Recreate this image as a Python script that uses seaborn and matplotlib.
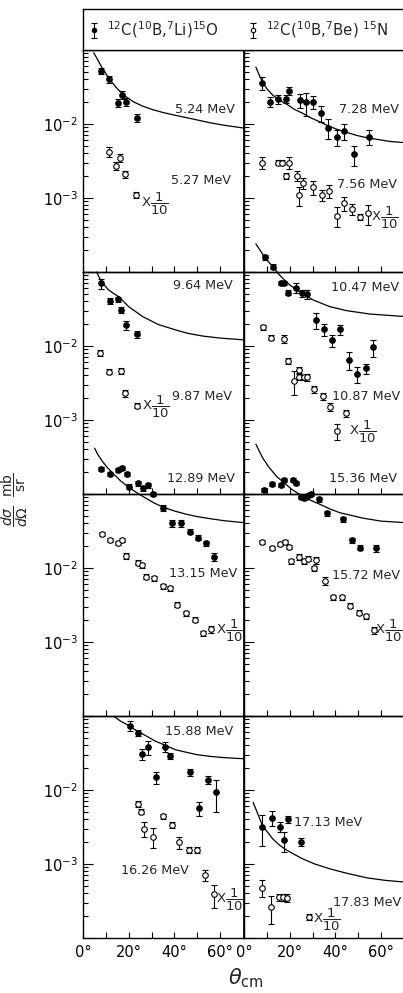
import numpy as np
import matplotlib
matplotlib.use("Agg")
import matplotlib.pyplot as plt
import seaborn as sns
from matplotlib.ticker import LogLocator, FuncFormatter, NullFormatter

sns.set_theme(style="ticks")
plt.rcParams["font.family"] = ["DejaVu Sans"]
plt.rcParams["mathtext.fontset"] = "dejavusans"

# angle (deg cm), cross section (mb/sr), relative error
# open symbols are already multiplied by 1/10 as in the figure

# 5.24 / 5.27 MeV
a524 = [8.1, 11.6, 15.2, 17.1, 18.8, 23.7]
s524 = [0.052, 0.040, 0.0195, 0.025, 0.020, 0.012]
e524 = [0.10, 0.10, 0.12, 0.12, 0.12, 0.12]
a527 = [11.3, 14.6, 16.3, 18.3, 23.1]
s527 = [0.0042, 0.0027, 0.0035, 0.0021, 0.0011]
e527 = [0.15, 0.12, 0.12, 0.10, 0.10]
ca524 = [4.7, 6, 8, 10, 12, 15, 18.7, 22, 26, 30, 35, 40, 48, 55.6, 62, 70.5]
cs524 = [0.092, 0.078, 0.060, 0.048, 0.039, 0.030, 0.0235, 0.020, 0.0175, 0.0158,
         0.0143, 0.0132, 0.0117, 0.0104, 0.0096, 0.0088]

# 7.28 / 7.56 MeV
a728 = [8.1, 11.4, 15.0, 18.4, 19.6, 24.6, 27.0, 30.2, 33.8, 36.9, 40.6, 43.8, 48.2, 54.6]
s728 = [0.0355, 0.020, 0.0216, 0.022, 0.028, 0.021, 0.0196, 0.020, 0.0142, 0.0089,
        0.0067, 0.0080, 0.0039, 0.0067]
e728 = [0.20, 0.15, 0.15, 0.12, 0.12, 0.22, 0.35, 0.20, 0.25, 0.30, 0.25, 0.25, 0.30, 0.22]
a756 = [8.1, 14.7, 16.5, 18.4, 19.6, 23.3, 24.3, 25.8, 30.2, 34.0, 37.1, 40.6, 43.8,
        47.4, 50.9, 54.1]
s756 = [0.0030, 0.0030, 0.0030, 0.0020, 0.0030, 0.0020, 0.0011, 0.0016, 0.0014, 0.0011,
        0.00126, 0.00058, 0.00085, 0.00071, 0.00056, 0.00062]
e756 = [0.18, 0.08, 0.08, 0.10, 0.18, 0.16, 0.30, 0.18, 0.22, 0.18, 0.20, 0.30, 0.22,
        0.18, 0.10, 0.30]
ca728 = [5.2, 6.5, 8.1, 10, 12.5, 15.5, 19.2, 22, 25.8, 29, 33.2, 36, 40.6, 45, 49.4,
         54, 59.7, 64, 70.5]
cs728 = [0.059, 0.047, 0.037, 0.030, 0.0247, 0.021, 0.0181, 0.0158, 0.0139, 0.0122,
         0.0107, 0.0097, 0.0085, 0.0077, 0.0070, 0.0065, 0.0061, 0.0058, 0.0056]

# 9.64 / 9.87 MeV
a964 = [8.1, 11.8, 15.5, 16.8, 18.7, 23.7]
s964 = [0.070, 0.041, 0.043, 0.031, 0.019, 0.0144]
e964 = [0.15, 0.10, 0.08, 0.10, 0.13, 0.10]
a987 = [7.3, 11.6, 16.5, 18.3, 23.6]
s987 = [0.0081, 0.0045, 0.0046, 0.0023, 0.00156]
e987 = [0.10, 0.08, 0.08, 0.10, 0.08]
ca964 = [5.9, 8.1, 11, 13.5, 15.8, 20, 26.1, 33, 40.8, 46, 52.6, 60, 70.5]
cs964 = [0.100, 0.074, 0.058, 0.051, 0.046, 0.034, 0.025, 0.0195, 0.0164, 0.0148,
         0.0136, 0.0128, 0.0121]

# 10.47 / 10.87 MeV
a1047 = [9.0, 12.5, 16.2, 17.7, 19.3, 22.8, 25.2, 27.6, 31.4, 35.0, 38.6, 42.0, 45.9,
         49.4, 53.3, 56.5]
s1047 = [0.158, 0.118, 0.072, 0.072, 0.0525, 0.061, 0.0515, 0.050, 0.0224, 0.0168,
         0.0120, 0.0168, 0.0065, 0.0042, 0.0050, 0.0096]
e1047 = [0.08, 0.08, 0.06, 0.06, 0.08, 0.15, 0.12, 0.15, 0.25, 0.18, 0.18, 0.16, 0.28,
         0.24, 0.16, 0.25]
a1087 = [8.4, 11.9, 17.4, 19.3, 21.8, 23.9, 24.3, 26.1, 27.7, 30.7, 34.6, 37.6, 40.6, 44.8]
s1087 = [0.0179, 0.0129, 0.0124, 0.0063, 0.0034, 0.0048, 0.00385, 0.00378, 0.00378,
         0.0026, 0.0021, 0.0015, 0.00071, 0.00123]
e1087 = [0.08, 0.08, 0.12, 0.08, 0.35, 0.10, 0.10, 0.08, 0.10, 0.12, 0.12, 0.12, 0.25, 0.12]
ca1047 = [5.2, 7.4, 9.0, 10.7, 12.5, 15, 17.7, 20, 22.9, 26, 30.2, 37.6, 45.0, 55.3, 70.5]
cs1047 = [0.24, 0.19, 0.158, 0.137, 0.120, 0.095, 0.078, 0.067, 0.058, 0.050, 0.042,
          0.034, 0.030, 0.027, 0.025]

# 12.89 / 13.15 MeV
a1289 = [7.8, 11.8, 15.2, 17.2, 19.3, 20.3, 24.1, 26.2, 28.3, 30.5, 35.1, 39.1, 42.9,
         46.7, 50.4, 53.8, 57.5]
s1289 = [0.22, 0.185, 0.21, 0.227, 0.186, 0.126, 0.140, 0.120, 0.132, 0.099, 0.065,
         0.040, 0.040, 0.031, 0.0256, 0.0216, 0.0141]
e1289 = [0.06, 0.06, 0.06, 0.06, 0.06, 0.08, 0.08, 0.08, 0.08, 0.06, 0.08, 0.10, 0.10,
         0.08, 0.08, 0.08, 0.12]
a1315 = [8.4, 11.8, 15.2, 17.2, 18.8, 24.3, 25.8, 27.6, 31.1, 34.9, 37.9, 41.1, 45.3,
         48.9, 52.6, 55.9]
s1315 = [0.029, 0.0237, 0.0216, 0.0239, 0.0145, 0.0118, 0.0109, 0.0076, 0.0073, 0.0057,
         0.0053, 0.0032, 0.00245, 0.0020, 0.00131, 0.00149]
e1315 = [0.06, 0.06, 0.06, 0.06, 0.10, 0.08, 0.08, 0.08, 0.08, 0.08, 0.08, 0.08, 0.08,
         0.08, 0.08, 0.12]
ca1289 = [5.1, 6.5, 8.4, 10.5, 13.5, 16.5, 20.2, 24, 27.6, 31, 34.9, 40, 45.3, 50,
          55.6, 62, 70.5]
cs1289 = [0.415, 0.34, 0.279, 0.23, 0.185, 0.15, 0.122, 0.102, 0.0875, 0.076, 0.0667,
          0.059, 0.0532, 0.0495, 0.0464, 0.0435, 0.041]

# 15.36 / 15.72 MeV
a1536 = [8.6, 12.2, 16.2, 17.7, 21.4, 22.6, 25.1, 26.1, 27.2, 28.4, 29.5, 32.9, 36.4,
         43.2, 47.3, 50.9, 57.7]
s1536 = [0.112, 0.135, 0.131, 0.155, 0.155, 0.141, 0.090, 0.088, 0.091, 0.097, 0.101,
         0.085, 0.055, 0.0455, 0.0239, 0.0188, 0.0185]
e1536 = [0.06, 0.06, 0.06, 0.06, 0.06, 0.06, 0.06, 0.06, 0.06, 0.06, 0.06, 0.08, 0.08,
         0.08, 0.08, 0.08, 0.10]
a1572 = [8.1, 12.1, 15.8, 17.8, 19.6, 20.7, 24.0, 26.1, 28.2, 30.5, 31.4, 35.5, 39.1,
         42.8, 46.2, 50.2, 53.5, 57.1]
s1572 = [0.0226, 0.0185, 0.0209, 0.0224, 0.0192, 0.0124, 0.0141, 0.0124, 0.0134, 0.0099,
         0.0127, 0.0067, 0.0040, 0.0040, 0.0031, 0.0025, 0.00224, 0.00144]
e1572 = [0.06, 0.06, 0.06, 0.06, 0.06, 0.08, 0.08, 0.08, 0.08, 0.08, 0.10, 0.12, 0.08,
         0.08, 0.08, 0.08, 0.08, 0.12]
ca1536 = [5.2, 8.1, 11.1, 14.5, 18.4, 21, 24.3, 28.5, 33.2, 37.5, 42.0, 52.4, 60, 70.5]
cs1536 = [0.47, 0.31, 0.226, 0.17, 0.135, 0.115, 0.099, 0.084, 0.0726, 0.063, 0.0558,
          0.047, 0.043, 0.041]

# 15.88 / 16.26 MeV
a1588 = [20.5, 24.0, 25.8, 28.3, 32.0, 35.7, 38.3, 47.0, 50.8, 54.7, 58.4]
s1588 = [0.074, 0.059, 0.0306, 0.0377, 0.0148, 0.0385, 0.0291, 0.0173, 0.0057, 0.0138, 0.0093]
e1588 = [0.15, 0.10, 0.17, 0.20, 0.18, 0.15, 0.10, 0.10, 0.22, 0.12, 0.45]
a1626 = [23.9, 25.2, 26.9, 30.8, 35.2, 38.8, 42.0, 46.3, 49.8, 53.4, 57.3]
s1626 = [0.0065, 0.0051, 0.0030, 0.00234, 0.0044, 0.0034, 0.00196, 0.00156, 0.00156,
         0.00071, 0.00039]
e1626 = [0.08, 0.08, 0.22, 0.30, 0.08, 0.10, 0.18, 0.10, 0.10, 0.18, 0.35]
ca1588 = [13.5, 16.5, 20.2, 23.5, 27.6, 31.5, 36.4, 40.5, 45.3, 50, 55.6, 61, 66.6, 70.5]
cs1588 = [0.099, 0.085, 0.074, 0.063, 0.054, 0.046, 0.0397, 0.035, 0.0323, 0.030,
          0.0285, 0.0275, 0.0268, 0.0265]

# 17.13 / 17.83 MeV
a1713 = [8.1, 12.2, 15.6, 17.3, 19.2, 25.1]
s1713 = [0.0032, 0.0042, 0.0032, 0.0021, 0.0040, 0.0020]
e1713 = [0.45, 0.22, 0.15, 0.30, 0.10, 0.12]
a1783 = [8.1, 11.8, 15.2, 17.0, 18.8, 28.5]
s1783 = [0.00048, 0.00026, 0.000355, 0.000355, 0.000347, 0.000194]
e1783 = [0.25, 0.40, 0.12, 0.12, 0.12, 0.10]
ca1713 = [4.0, 6, 8.1, 10.3, 12.5, 15.5, 18.4, 22, 25.8, 31, 37.6, 45, 53.8, 62, 70.5]
cs1713 = [0.0068, 0.0048, 0.0033, 0.0027, 0.0022, 0.0018, 0.00156, 0.00135, 0.00117,
          0.00100, 0.00086, 0.00075, 0.00065, 0.00060, 0.00057]

energy_labels = ["5.24 MeV", "5.27 MeV", "7.28 MeV", "7.56 MeV",
                 "9.64 MeV", "9.87 MeV", "10.47 MeV", "10.87 MeV",
                 "12.89 MeV", "13.15 MeV", "15.36 MeV", "15.72 MeV",
                 "15.88 MeV", "16.26 MeV", "17.13 MeV", "17.83 MeV"]

# (row, col, filled, open, curve, filled label xy, open label xy, x1/10 xy)
panels = [
    (0, 0, (a524, s524, e524), (a527, s527, e527), (ca524, cs524),
     (0.758, 0.734), (0.736, 0.41), (0.447, 0.306)),
    (0, 1, (a728, s728, e728), (a756, s756, e756), (ca728, cs728),
     (0.778, 0.734), (0.762, 0.396), (0.875, 0.243)),
    (1, 0, (a964, s964, e964), (a987, s987, e987), (ca964, cs964),
     (0.742, 0.937), (0.742, 0.441), (0.453, 0.392)),
    (1, 1, (a1047, s1047, e1047), (a1087, s1087, e1087), (ca1047, cs1047),
     (0.75, 0.932), (0.759, 0.441), (0.7375, 0.279)),
    (2, 0, (a1289, s1289, e1289), (a1315, s1315, e1315), (ca1289, cs1289),
     (0.736, 1.068), (0.748, 0.644), (0.913, 0.383)),
    (2, 1, (a1536, s1536, e1536), (a1572, s1572, e1572), (ca1536, cs1536),
     (0.741, 1.068), (0.759, 0.635), (0.9, 0.383)),
    (3, 0, (a1588, s1588, e1588), (a1626, s1626, e1626), (ca1588, cs1588),
     (0.72, 0.928), (0.447, 0.306), (0.913, 0.171)),
    (3, 1, (a1713, s1713, e1713), (a1783, s1783, e1783), (ca1713, cs1713),
     (0.525, 0.5225), (0.765, 0.162), (0.5125, 0.081)),
]

W, H = 403, 993
fig = plt.figure(figsize=(W / 100, H / 100), dpi=100)


def draw_points(ax, a, s, e, filled):
    s = np.asarray(s)
    cont = ax.errorbar(a, s, yerr=s * np.asarray(e), fmt="o", ms=4, color="black",
                       mfc="black" if filled else "white", mec="black", mew=0.8,
                       elinewidth=0.8, capsize=2, capthick=0.8, zorder=3)
    for art in cont.get_children():
        art.set_clip_on(False)
    return cont


def decade_label(v, pos):
    p = int(round(np.log10(v)))
    return f"$10^{{{p}}}$" if p in (-2, -3) else ""


col_x = [(83, 161), (244, 161)]
row_top = [50, 272, 494, 716]
row_h = 222
handles = None

for k, (row, col, fil, opn, cur, lf, lo, lx) in enumerate(panels):
    x0, w = col_x[col]
    ax = fig.add_axes([x0 / W, (H - row_top[row] - row_h) / H, w / W, row_h / H])
    ax.set_facecolor("none")
    ax.set_yscale("log")

    before = list(ax.lines)
    sns.lineplot(x=cur[0], y=cur[1], ax=ax, color="black", lw=0.9,
                 estimator=None, sort=False, legend=False)
    for ln in ax.lines:
        if ln not in before:
            ln.set_clip_on(False)

    hf = draw_points(ax, *fil, True)
    ho = draw_points(ax, *opn, False)
    if handles is None:
        handles = (hf, ho)

    ax.set_xlim(0, 70.5)
    ax.set_ylim(1e-4, 1e-1)
    ax.set_xticks([0, 20, 40, 60])
    ax.set_xticks([10, 30, 50], minor=True)
    if row == 3:
        ax.set_xticklabels(["0°", "20°", "40°", "60°"], fontsize=10.5)
    else:
        ax.set_xticklabels([])
    ax.yaxis.set_major_locator(LogLocator(base=10))
    ax.yaxis.set_minor_locator(LogLocator(base=10, subs=np.arange(2, 10)))
    ax.yaxis.set_minor_formatter(NullFormatter())
    if col == 0:
        ax.yaxis.set_major_formatter(FuncFormatter(decade_label))
    else:
        ax.yaxis.set_major_formatter(NullFormatter())
    ax.tick_params(axis="both", which="both", direction="in", top=False, right=False,
                   colors="black", width=0.8)
    ax.tick_params(axis="x", which="both", length=4, pad=5)
    ax.tick_params(axis="y", which="major", length=7, labelsize=10.5)
    ax.tick_params(axis="y", which="minor", length=3.5)
    for side in ["left", "bottom", "top"]:
        ax.spines[side].set_color("black")
        ax.spines[side].set_linewidth(1.0)
    ax.spines["right"].set_visible(col == 0)
    ax.spines["right"].set_color("black")

    ax.text(*lf, energy_labels[2 * k], transform=ax.transAxes, ha="center",
            va="center", fontsize=9.2, clip_on=False)
    ax.text(*lo, energy_labels[2 * k + 1], transform=ax.transAxes, ha="center",
            va="center", fontsize=9.2, clip_on=False)
    ax.text(*lx, r"X$\dfrac{1}{10}$", transform=ax.transAxes, ha="center",
            va="center", fontsize=9.5, clip_on=False)

# header box with the two reactions
hx = fig.add_axes([83 / W, (H - 50) / H, 330 / W, 41 / H])
hx.set_xticks([])
hx.set_yticks([])
for side in hx.spines.values():
    side.set_color("black")
    side.set_linewidth(1.0)
leg_kw = dict(loc="center left", frameon=False, handlelength=1.0, handletextpad=0.4,
              borderaxespad=0, borderpad=0, fontsize=10.8, markerscale=0.8)
leg1 = hx.legend([handles[0]], [r"$^{12}$C($^{10}$B,$^{7}$Li)$^{15}$O"],
                 bbox_to_anchor=(3 / 330, 0.5), **leg_kw)
hx.add_artist(leg1)
hx.legend([handles[1]], [r"$^{12}$C($^{10}$B,$^{7}$Be) $^{15}$N"],
          bbox_to_anchor=(162 / 330, 0.5), **leg_kw)

fig.text(15 / W, 1 - 500 / H, r"$\dfrac{d\sigma}{d\Omega}\ \ \dfrac{\rm mb}{\rm sr}$",
         rotation=90, ha="center", va="center", fontsize=10)
fig.text(246 / W, 1 - 978 / H, r"$\theta_{\rm cm}$", ha="center", va="center",
         fontsize=15)

fig.savefig("out.png", dpi=100)
